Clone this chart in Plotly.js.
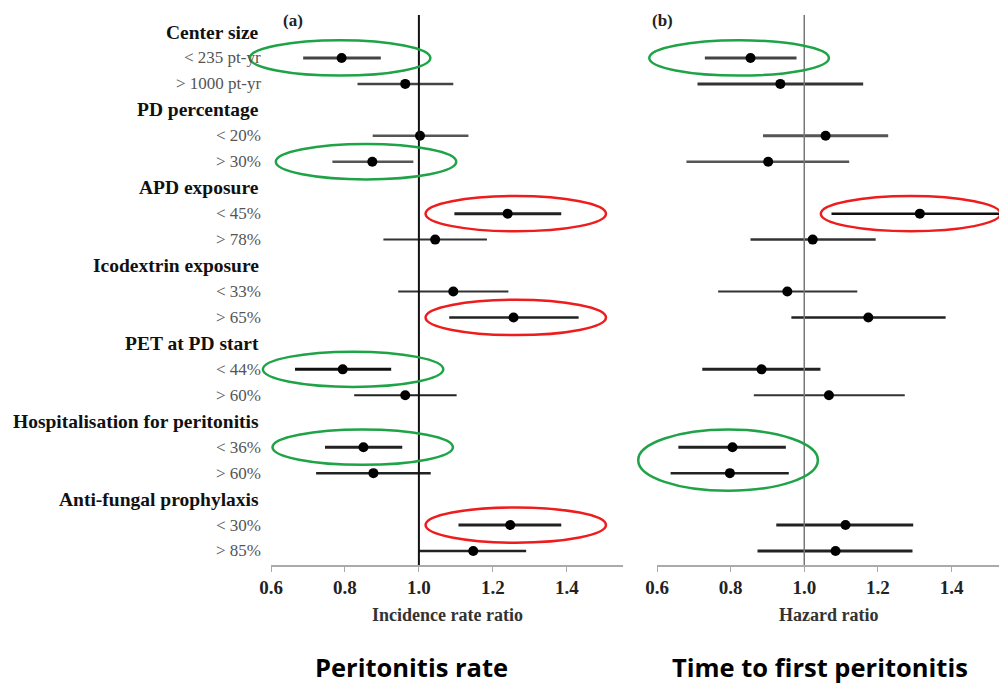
<!DOCTYPE html>
<html>
<head>
<meta charset="utf-8">
<script src="https://cdn.plot.ly/plotly-3.0.1.min.js"></script>
<style>html,body{margin:0;padding:0;background:#fff;}#chart{width:999px;height:683px;}</style>
</head>
<body>
<div id="chart"></div>
<script>
// ---- data ----
const rowLabels = ["Center size","< 235 pt-yr","> 1000 pt-yr","PD percentage","< 20%","> 30%","APD exposure","< 45%","> 78%","Icodextrin exposure","< 33%","> 65%","PET at PD start","< 44%","> 60%","Hospitalisation for peritonitis","< 36%","> 60%","Anti-fungal prophylaxis","< 30%","> 85%"];
const isHeader = [1,0,0,1,0,0,1,0,0,1,0,0,1,0,0,1,0,0,1,0,0];

// Panel (a): incidence rate ratio
const irrEst = [0.791,0.963,1.003,0.874,1.240,1.044,1.093,1.256,0.794,0.963,0.850,0.877,1.247,1.147];
const irrLo  = [0.687,0.834,0.875,0.766,1.096,0.904,0.944,1.082,0.665,0.825,0.746,0.722,1.107,1.000];
const irrHi  = [0.897,1.093,1.134,0.985,1.385,1.184,1.242,1.432,0.925,1.102,0.955,1.032,1.385,1.290];

// Panel (b): hazard ratio
const hrEst = [0.854,0.935,1.058,0.902,1.314,1.023,0.954,1.174,0.884,1.067,0.805,0.798,1.112,1.085];
const hrLo  = [0.730,0.710,0.888,0.680,1.074,0.854,0.766,0.965,0.723,0.863,0.658,0.637,0.924,0.873];
const hrHi  = [0.979,1.160,1.228,1.122,1.600,1.194,1.144,1.384,1.044,1.273,0.950,0.958,1.296,1.294];

const xTicks = [0.6,0.8,1.0,1.2,1.4];
const xTickText = ["0.6","0.8","1.0","1.2","1.4"];
const axisTitles = ["Incidence rate ratio","Hazard ratio"];
const panelTitles = ["Peritonitis rate","Time to first peritonitis"];

// highlight ellipses: panel, rows covered, centre value, colour
const highlights = [
  {panel:"a", rows:[1],     centre:0.787, color:"green"},
  {panel:"a", rows:[5],     centre:0.857, color:"green"},
  {panel:"a", rows:[7],     centre:1.262, color:"red"},
  {panel:"a", rows:[11],    centre:1.262, color:"red"},
  {panel:"a", rows:[13],    centre:0.822, color:"green"},
  {panel:"a", rows:[16],    centre:0.848, color:"green"},
  {panel:"a", rows:[19],    centre:1.262, color:"red"},
  {panel:"b", rows:[1],     centre:0.823, color:"green"},
  {panel:"b", rows:[7],     centre:1.289, color:"red"},
  {panel:"b", rows:[16,17], centre:0.793, color:"green"}
];

// ---- styles ----
const irrLineColor = ["#444","#444","#555","#555","#222","#333","#333","#222","#111","#222","#222","#222","#222","#222"];
const irrLineWidth = [3,2.5,2.5,2.5,3,2,2,2.5,3,2,3,2.5,3,2.5];
const hrLineColor  = ["#444","#333","#555","#555","#111","#333","#333","#222","#222","#333","#222","#222","#222","#222"];
const hrLineWidth  = [3,3,3,2.5,2.5,2.5,2,2.5,3,2,3,2.5,3,3];
const hiColor = {green:"#1fa347", red:"#ee1c1c"};

const itemRows = [];
isHeader.forEach((h,i)=>{ if(!h) itemRows.push(i); });

const serif = "Liberation Serif, Times New Roman, serif";
const W = 999, H = 683, plotTop = 15, plotBot = 565;
const domA = [271/W, 623/W];
const domB = [657/W, 1];
const rangeA = [0.6, 1.552];
const rangeB = [0.6, 1.529];
const yRange = [20.54, -0.655];

const traces = [];
function addPanel(est, lo, hi, colors, widths, xa, ya){
  est.forEach((v,k)=>{
    traces.push({type:"scatter", mode:"lines", x:[lo[k],hi[k]], y:[itemRows[k],itemRows[k]],
      xaxis:xa, yaxis:ya, line:{color:colors[k], width:widths[k]}, hoverinfo:"skip", showlegend:false});
  });
  traces.push({type:"scatter", mode:"markers", x:est, y:itemRows, xaxis:xa, yaxis:ya,
    marker:{color:"#000", size:10}, showlegend:false});
}
addPanel(irrEst, irrLo, irrHi, irrLineColor, irrLineWidth, "x", "y");
addPanel(hrEst, hrLo, hrHi, hrLineColor, hrLineWidth, "x2", "y2");

// paper coords (plot area spans paper 0..1 vertically between plotBot and plotTop)
function pyFromPx(px){ return (plotBot - px)/(plotBot - plotTop); }
function yPaper(r){ const px = plotTop + (r - yRange[1])/(yRange[0]-yRange[1])*(plotBot-plotTop); return pyFromPx(px); }
function xPaper(v, dom, rng){ return dom[0] + (v-rng[0])/(rng[1]-rng[0])*(dom[1]-dom[0]); }

const shapes = [
  {type:"line", xref:"x", yref:"paper", x0:1, x1:1, y0:0, y1:1, line:{color:"#111", width:2}},
  {type:"line", xref:"x2", yref:"paper", x0:1, x1:1, y0:0, y1:1, line:{color:"#777", width:1.5}}
];
highlights.forEach(h=>{
  const dom = h.panel==="a"?domA:domB, rng = h.panel==="a"?rangeA:rangeB;
  const rTop = Math.min(...h.rows), rBot = Math.max(...h.rows);
  const half = 0.244;
  shapes.push({type:"circle", xref:"paper", yref:"paper",
    x0:xPaper(h.centre-half, dom, rng), x1:xPaper(h.centre+half, dom, rng),
    y0:yPaper(rBot+0.68), y1:yPaper(rTop-0.68),
    line:{color:hiColor[h.color], width:2.5}, fillcolor:"rgba(0,0,0,0)"});
});

// row labels
const annotations = rowLabels.map((l,i)=>({
  text: isHeader[i] ? "<b>"+l+"</b>" : l,
  xref:"paper", yref:"y", x: (isHeader[i]?261:263)/W, y:i, xanchor:"right", yanchor:"middle",
  showarrow:false,
  font: isHeader[i] ? {family:serif, size:19.5, color:"#111"} : {family:serif, size:17, color:"#555"}
}));
const doms = [domA, domB];
annotations.push(
  {text:"<b>(a)</b>", xref:"paper", yref:"paper", x:293/W, y:pyFromPx(21), xanchor:"center", yanchor:"middle", showarrow:false, font:{family:serif, size:17, color:"#222"}},
  {text:"<b>(b)</b>", xref:"paper", yref:"paper", x:662/W, y:pyFromPx(21), xanchor:"center", yanchor:"middle", showarrow:false, font:{family:serif, size:17, color:"#222"}}
);
axisTitles.forEach((t,i)=>annotations.push(
  {text:"<b>"+t+"</b>", xref:"paper", yref:"paper", x:(doms[i][0]+doms[i][1])/2, y:pyFromPx(615), xanchor:"center", yanchor:"middle", showarrow:false, font:{family:serif, size:18, color:"#333"}}
));
const panelTitleX = [411.5/W, 820/W];
panelTitles.forEach((t,i)=>annotations.push(
  {text:"<b>"+t+"</b>", xref:"paper", yref:"paper", x:panelTitleX[i], y:pyFromPx(667), xanchor:"center", yanchor:"middle", showarrow:false, font:{family:"Open Sans, sans-serif", size:25.5, color:"#000"}}
));

function xAxis(dom, rng, anchor){
  return {domain:dom, range:rng, anchor:anchor, showgrid:false, zeroline:false, showline:true,
    linecolor:"#aaa", linewidth:1.5, ticks:"outside", ticklen:5, tickcolor:"#aaa", tickwidth:1,
    tickvals:xTicks, ticktext:xTickText, fixedrange:true,
    tickfont:{family:serif, size:19, color:"#222", weight:"bold"}};
}

const layout = {
  width:W, height:H, margin:{l:0, r:0, t:plotTop, b:H-plotBot},
  paper_bgcolor:"#fff", plot_bgcolor:"rgba(0,0,0,0)", showlegend:false,
  xaxis: xAxis(domA, rangeA, "y"),
  xaxis2: xAxis(domB, rangeB, "y2"),
  yaxis: {domain:[0,1], range:yRange, anchor:"x", showgrid:false, zeroline:false, showline:false,
    showticklabels:false, ticks:"", fixedrange:true},
  yaxis2: {domain:[0,1], range:yRange, anchor:"x2", showgrid:false, zeroline:false, showline:false,
    showticklabels:false, ticks:"", fixedrange:true},
  shapes: shapes,
  annotations: annotations
};

Plotly.newPlot("chart", traces, layout, {displayModeBar:false, staticPlot:true});
</script>
</body>
</html>
